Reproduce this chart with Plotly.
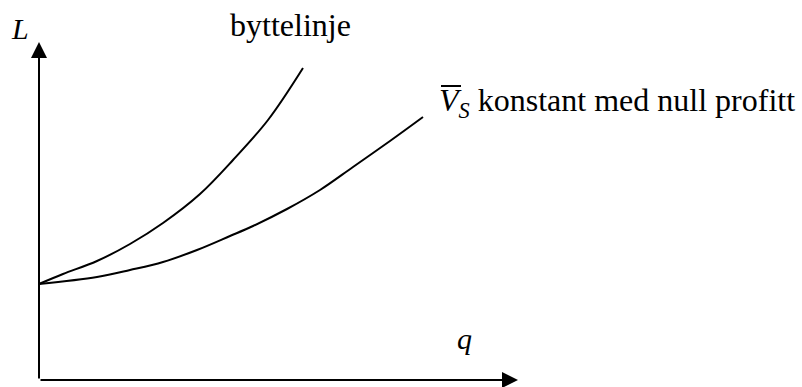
import plotly.graph_objects as go

# Data (q, L) in axis units (origin at the axis corner)
byttelinje_q = [0, 24, 58, 91, 124, 161, 194, 229, 264]
byttelinje_L = [96, 106, 119, 136, 157, 186, 220, 260, 312]

nullprofitt_q = [0, 58, 91, 124, 158, 191, 214, 248, 281, 314, 351, 384]
nullprofitt_L = [96, 103, 110, 118, 130, 144, 154, 171, 190, 213, 239, 263]

axis_q_max = 479
axis_L_max = 338

FONT = "Liberation Serif"

fig = go.Figure()
fig.add_trace(go.Scatter(x=byttelinje_q, y=byttelinje_L, mode="lines",
                         line=dict(color="black", width=2, shape="spline", smoothing=1.0),
                         hoverinfo="skip"))
fig.add_trace(go.Scatter(x=nullprofitt_q, y=nullprofitt_L, mode="lines",
                         line=dict(color="black", width=2, shape="spline", smoothing=1.0),
                         hoverinfo="skip"))

# axes with arrowheads
fig.add_annotation(x=0, y=axis_L_max, ax=0, ay=0, xref="x", yref="y",
                   axref="x", ayref="y", text="", showarrow=True,
                   arrowhead=2, arrowsize=1.6, arrowwidth=2, arrowcolor="black")
fig.add_annotation(x=axis_q_max, y=0, ax=0, ay=0, xref="x", yref="y",
                   axref="x", ayref="y", text="", showarrow=True,
                   arrowhead=2, arrowsize=1.6, arrowwidth=2, arrowcolor="black")

# labels
fig.add_annotation(x=-19, y=352, text="<i>L</i>", showarrow=False,
                   font=dict(family=FONT, size=30, color="black"))
fig.add_annotation(x=189, y=355, text="byttelinje", showarrow=False,
                   xanchor="left", font=dict(family=FONT, size=32, color="black"))
fig.add_annotation(x=398, y=278, text="<i>V</i><sub><i>S</i></sub> konstant med null profitt",
                   showarrow=False, xanchor="left",
                   font=dict(family=FONT, size=32, color="black"))
# overline over V
fig.add_shape(type="line", x0=402, x1=422, y0=294, y1=294, xref="x", yref="y",
              line=dict(color="black", width=2))
fig.add_annotation(x=425, y=42, text="<i>q</i>", showarrow=False,
                   font=dict(family=FONT, size=30, color="black"))

fig.update_layout(
    width=802, height=387,
    margin=dict(l=0, r=0, t=0, b=0),
    paper_bgcolor="white", plot_bgcolor="white",
    showlegend=False,
    xaxis=dict(range=[-39, 763], visible=False, fixedrange=True),
    yaxis=dict(range=[-7, 380], visible=False, fixedrange=True),
)
fig.write_html("out.html", config={"displayModeBar": False},
               post_script="document.body.style.margin='0';document.body.style.overflow='hidden';")
